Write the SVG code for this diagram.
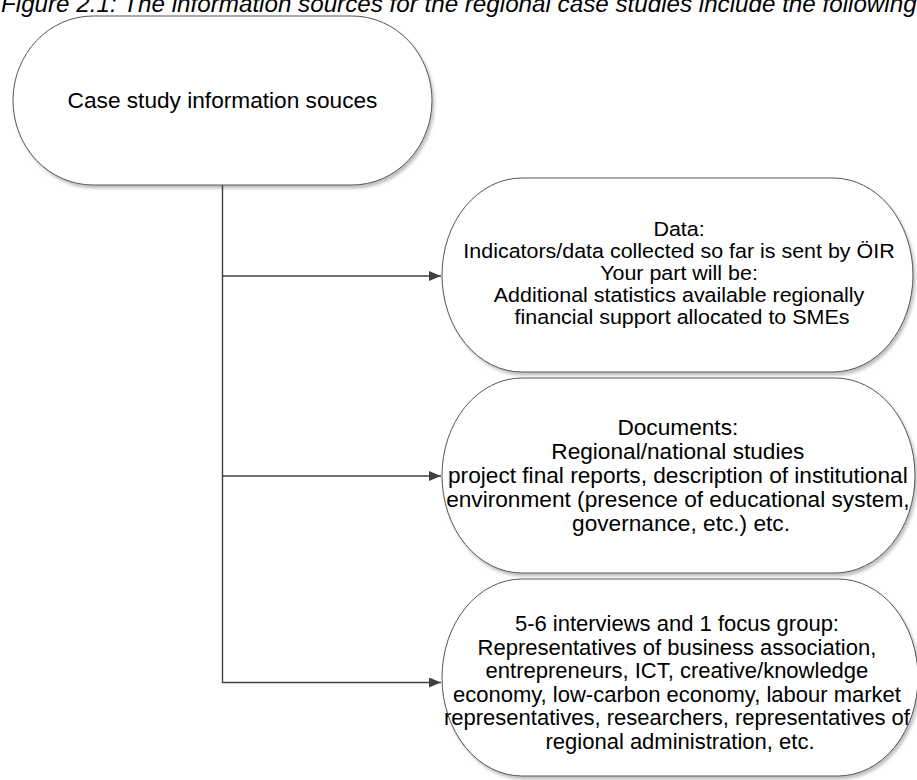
<svg xmlns="http://www.w3.org/2000/svg" width="917" height="780" viewBox="0 0 917 780">
  <style>
    .node { fill: #ffffff; stroke: #555555; stroke-width: 1; filter: url(#shadow); }
    .label { font-family: "Liberation Sans", Arial, sans-serif; fill: #000000; text-anchor: middle; }
    .wire { fill: none; stroke: #404040; stroke-width: 1.4; }
    .title { font-family: "Liberation Sans", Arial, sans-serif; font-style: italic; font-size: 24.2px; fill: #000000; }
  </style>
  <defs>
    <filter id="shadow" x="-5%" y="-5%" width="115%" height="115%">
      <feDropShadow dx="2" dy="3" stdDeviation="1.5" flood-color="#8c8c8c" flood-opacity="0.55"/>
    </filter>
    <marker id="arrow" markerUnits="userSpaceOnUse" markerWidth="12" markerHeight="10" refX="12" refY="5" orient="auto">
      <path d="M0,0 L12,5 L0,10 z" fill="#404040"/>
    </marker>
  </defs>

  <rect width="917" height="780" fill="#ffffff"/>

  <text class="title" x="1" y="12">Figure 2.1: The information sources for the regional case studies include the following</text>

  <!-- root terminator -->
  <g id="node-sources">
    <rect class="node" x="13" y="16" width="419" height="169" rx="80" ry="84.5"/>
    <text class="label" font-size="22" transform="translate(222.5 108) scale(1.03 1)" x="0" y="0">Case study information souces</text>
  </g>

  <!-- branch lines from the root down to each source -->
  <g id="connectors">
    <path class="wire" d="M222.5 185 V682.5 H441" marker-end="url(#arrow)"/>
    <path class="wire" d="M222.5 276 H441" marker-end="url(#arrow)"/>
    <path class="wire" d="M222.5 476 H441" marker-end="url(#arrow)"/>
  </g>

  <g id="node-data">
    <rect class="node" x="442" y="178" width="471" height="194" rx="80" ry="97"/>
    <text class="label" font-size="19.5" transform="translate(682 0) scale(1.1 1)">
      <tspan x="0" y="236">Data:</tspan>
      <tspan x="0" y="258">Indicators/data collected so far is sent by ÖIR</tspan>
      <tspan x="0" y="280">Your part will be:</tspan>
      <tspan x="0" y="302">Additional statistics available regionally</tspan>
      <tspan x="0" y="324">financial support allocated to SMEs</tspan>
    </text>
  </g>

  <g id="node-documents">
    <rect class="node" x="442" y="378" width="473" height="195" rx="80" ry="97.5"/>
    <text class="label" font-size="22" transform="translate(681 0) scale(1.03 1)">
      <tspan x="0" y="435">Documents:</tspan>
      <tspan x="0" y="459">Regional/national studies</tspan>
      <tspan x="0" y="483">project final reports, description of institutional</tspan>
      <tspan x="0" y="507">environment (presence of educational system,</tspan>
      <tspan x="0" y="531">governance, etc.) etc.</tspan>
    </text>
  </g>

  <g id="node-interviews">
    <rect class="node" x="442" y="579" width="476" height="197" rx="80" ry="98.5"/>
    <text class="label" font-size="22" transform="translate(680 0)">
      <tspan x="0" y="631">5-6 interviews and 1 focus group:</tspan>
      <tspan x="0" y="654.5">Representatives of business association,</tspan>
      <tspan x="0" y="678">entrepreneurs, ICT, creative/knowledge</tspan>
      <tspan x="0" y="701.5">economy, low-carbon economy, labour market</tspan>
      <tspan x="0" y="725">representatives, researchers, representatives of</tspan>
      <tspan x="0" y="748.5">regional administration, etc.</tspan>
    </text>
  </g>
</svg>
